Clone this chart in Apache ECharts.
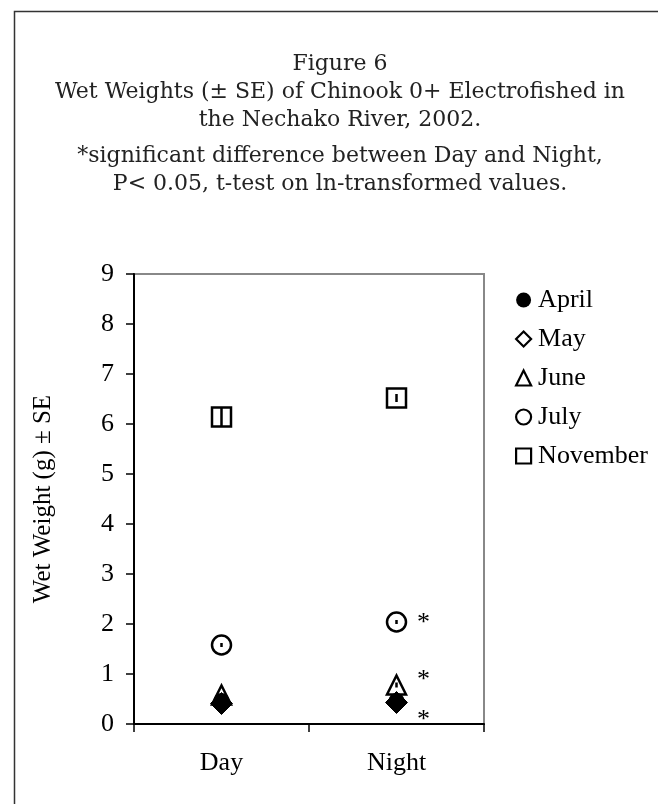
<!DOCTYPE html>
<html>
<head>
<meta charset="utf-8">
<script src="https://cdn.jsdelivr.net/npm/echarts@6/dist/echarts.min.js"></script>
<style>
html,body{margin:0;padding:0;background:#fff;}
#chart{width:658px;height:804px;}
</style>
</head>
<body>
<div id="chart"></div>
<script>
// 昼夜两组
var categories = ['Day', 'Night'];
var yTicks = [0, 1, 2, 3, 4, 5, 6, 7, 8, 9];

// 各月平均湿重 (g)
var april = [0.46, 0.46];
var may = [0.41, 0.43];
var june = [0.58, 0.78];
var july = [1.58, 2.04];
var november = [6.14, 6.52];

// 标准误
var aprilSE = [0.02, 0.02];
var maySE = [0.02, 0.02];
var juneSE = [0.03, 0.05];
var julySE = [0.04, 0.04];
var novemberSE = [0.2, 0.08];

// 显著性 (*)
var sigMay = [false, true];
var sigJune = [false, true];
var sigJuly = [false, true];

var chart = echarts.init(document.getElementById('chart'));

var serifFont = '"Liberation Serif", "Times New Roman", serif';
var titleFont = '"DejaVu Serif", serif';

function hollow(w) {
    return {color: 'rgba(255,255,255,0)', borderColor: '#000', borderWidth: w || 2.5, opacity: 1};
}

var legendHollow = {color: '#fff', borderColor: '#000', borderWidth: 2.2};

function withSig(values, sig, offset) {
    return values.map(function (v, i) {
        var item = {value: v};
        if (sig[i]) {
            item.label = {
                show: true,
                formatter: '*',
                position: 'inside',
                offset: offset,
                color: '#000',
                fontFamily: serifFont,
                fontSize: 26
            };
        }
        return item;
    });
}

// 误差线数据
var errData = [];
[[april, aprilSE], [may, maySE], [june, juneSE], [july, julySE], [november, novemberSE]].forEach(function (p) {
    p[0].forEach(function (v, i) {
        errData.push([i, v, p[1][i]]);
    });
});

var option = {
    animation: false,
    backgroundColor: '#fff',
    title: {
        text: 'Figure 6\nWet Weights (± SE) of Chinook 0+ Electrofished in\nthe Nechako River, 2002.',
        subtext: '*significant difference between Day and Night,\nP< 0.05, t-test on ln-transformed values.',
        left: 335,
        top: 45,
        textAlign: 'center',
        itemGap: 8,
        textStyle: {
            fontFamily: titleFont,
            fontWeight: 'normal',
            fontSize: 22,
            lineHeight: 28,
            color: '#222'
        },
        subtextStyle: {
            fontFamily: titleFont,
            fontSize: 22,
            lineHeight: 28,
            color: '#222'
        }
    },
    legend: {
        orient: 'vertical',
        left: 510,
        top: 282,
        itemWidth: 15,
        itemHeight: 15,
        itemGap: 13,
        textStyle: {
            fontFamily: serifFont,
            fontSize: 26,
            lineHeight: 26,
            color: '#000',
            padding: [0, 0, 0, 2]
        },
        data: [
            {name: 'April', icon: 'circle', itemStyle: {color: '#000', borderWidth: 0}},
            {name: 'May', icon: 'diamond', itemStyle: legendHollow},
            {name: 'June', icon: 'triangle', itemStyle: legendHollow},
            {name: 'July', icon: 'circle', itemStyle: legendHollow},
            {name: 'November', icon: 'rect', itemStyle: legendHollow}
        ]
    },
    grid: {
        left: 134,
        right: 174,
        top: 274,
        bottom: 80,
        show: true,
        borderColor: '#888',
        borderWidth: 2
    },
    xAxis: {
        type: 'category',
        data: categories,
        boundaryGap: true,
        axisLine: {lineStyle: {color: '#000', width: 2}},
        axisTick: {show: true, length: 8, lineStyle: {color: '#000', width: 1.5}},
        axisLabel: {margin: 26, fontFamily: serifFont, fontSize: 26, color: '#000'},
        splitLine: {show: false}
    },
    yAxis: {
        type: 'value',
        min: yTicks[0],
        max: yTicks[yTicks.length - 1],
        interval: 1,
        name: 'Wet Weight (g) ± SE',
        nameLocation: 'middle',
        nameGap: 78,
        nameTextStyle: {fontFamily: serifFont, fontSize: 25, color: '#000'},
        axisLine: {show: true, lineStyle: {color: '#000', width: 2}},
        axisTick: {show: true, length: 8, lineStyle: {color: '#000', width: 1.5}},
        axisLabel: {margin: 20, fontFamily: serifFont, fontSize: 26, color: '#000'},
        splitLine: {show: false}
    },
    series: [{
        name: 'April',
        type: 'scatter',
        symbol: 'circle',
        symbolSize: 16,
        itemStyle: {color: '#000', opacity: 1},
        data: april
    }, {
        name: 'May',
        type: 'scatter',
        symbol: 'diamond',
        symbolSize: 22,
        itemStyle: {color: '#000', borderColor: '#000', borderWidth: 1, opacity: 1},
        data: withSig(may, sigMay, [27, 18])
    }, {
        name: 'June',
        type: 'scatter',
        symbol: 'triangle',
        symbolSize: 19,
        itemStyle: hollow(2.5),
        data: withSig(june, sigJune, [27, -5])
    }, {
        name: 'July',
        type: 'scatter',
        symbol: 'circle',
        symbolSize: 19,
        itemStyle: hollow(2.5),
        data: withSig(july, sigJuly, [27, 1])
    }, {
        name: 'November',
        type: 'scatter',
        symbol: 'rect',
        symbolSize: 19,
        itemStyle: hollow(2.5),
        data: november
    }, {
        name: 'SE',
        type: 'custom',
        z: 5,
        renderItem: function (params, api) {
            var x = api.value(0), m = api.value(1), se = api.value(2);
            var p1 = api.coord([x, m - se]);
            var p2 = api.coord([x, m + se]);
            return {
                type: 'line',
                shape: {x1: p1[0], y1: p1[1], x2: p2[0], y2: p2[1]},
                style: {stroke: '#000', lineWidth: 2.5}
            };
        },
        data: errData
    }],
    graphic: [{
        type: 'rect',
        left: 12,
        top: 9,
        shape: {width: 700, height: 900},
        style: {fill: 'none', stroke: '#333', lineWidth: 1.5},
        silent: true,
        z: -1
    }]
};

chart.setOption(option);
</script>
</body>
</html>
